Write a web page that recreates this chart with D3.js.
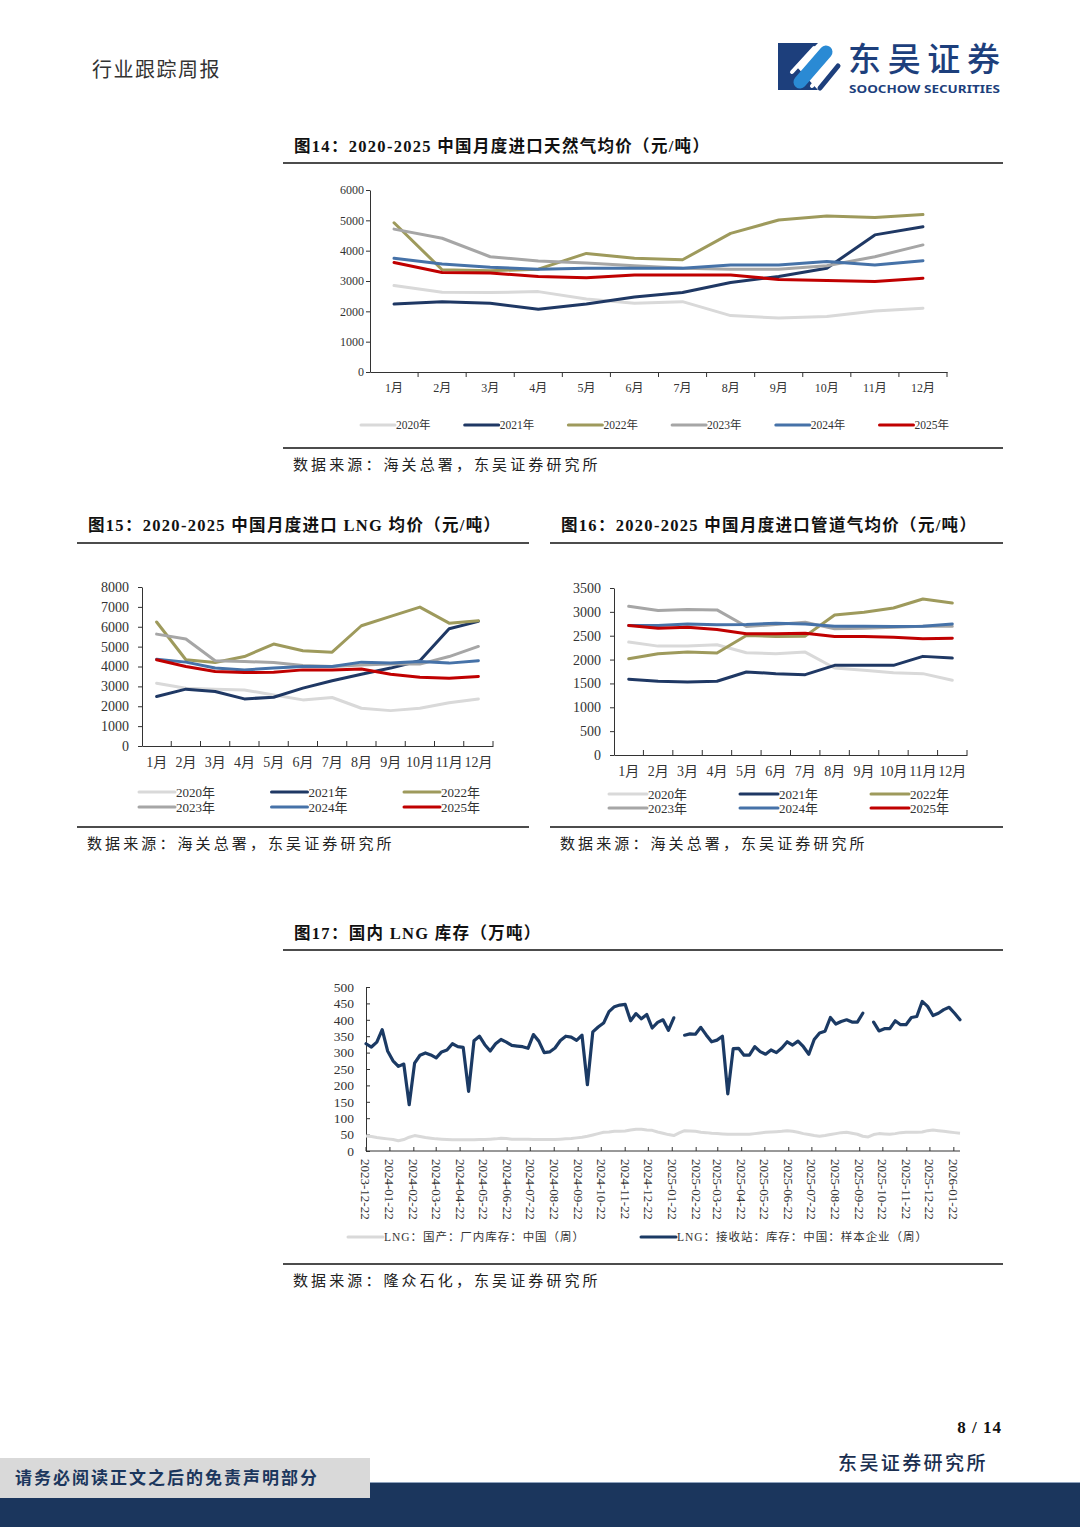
<!DOCTYPE html>
<html>
<head>
<meta charset="utf-8">
<script src="https://cdn.jsdelivr.net/npm/d3@7"></script>
<style>
  body { margin: 0; background: #fff; }
  svg text { font-family: "Liberation Serif", "Noto Sans CJK SC", serif; }
</style>
</head>
<body>
<svg id="page" width="1080" height="1527"></svg>
<script>
// ---- data ----
const months = ["1月","2月","3月","4月","5月","6月","7月","8月","9月","10月","11月","12月"];
const years = ["2020年","2021年","2022年","2023年","2024年","2025年"];
const yearColors = ["#d9d9d9","#1f3864","#9e9a5c","#a6a6a6","#4672a8","#c00000"];

// 图14 进口天然气均价 (元/吨), one row per year 2020..2025
const ngPrice = [
  [2850,2630,2620,2650,2410,2270,2320,1860,1780,1830,2010,2100],
  [2240,2320,2270,2070,2240,2470,2620,2950,3150,3420,4520,4790],
  [4920,3370,3340,3390,3910,3750,3700,4570,5010,5140,5090,5190],
  [4710,4410,3800,3660,3590,3500,3420,3390,3390,3500,3800,4190],
  [3750,3560,3450,3390,3420,3420,3420,3530,3530,3640,3530,3670],
  [3610,3280,3260,3150,3110,3200,3200,3200,3050,3020,2980,3090]
];
// 图15 进口LNG均价
const lngPrice = [
  [3160,2910,2860,2820,2570,2320,2440,1900,1780,1900,2180,2370],
  [2490,2860,2740,2370,2450,2910,3280,3610,3920,4290,5900,6270],
  [6240,4340,4200,4500,5130,4790,4720,6050,6520,6990,6180,6300],
  [5630,5380,4290,4250,4200,4050,4000,4080,4120,4120,4500,5010],
  [4370,4220,3920,3830,3920,4000,4000,4220,4170,4250,4170,4290],
  [4340,4000,3750,3700,3710,3830,3830,3870,3610,3460,3410,3500]
];
// 图16 进口管道气均价
const pipePrice = [
  [2366,2282,2282,2310,2143,2122,2157,1823,1774,1726,1705,1566],
  [1587,1545,1531,1545,1740,1705,1684,1879,1879,1879,2067,2032],
  [2018,2122,2157,2136,2505,2484,2491,2936,2992,3082,3270,3187],
  [3117,3027,3048,3041,2693,2735,2783,2644,2658,2679,2700,2700],
  [2714,2714,2748,2728,2735,2762,2748,2700,2700,2693,2700,2748],
  [2714,2658,2679,2630,2540,2540,2554,2484,2484,2470,2435,2449]
];

// 图17 国内LNG库存 (万吨), weekly from stockStart
const stockStart = "2023-12-22";
const stockEnd = "2026-01-30";
const stockNames = ["LNG：国产：厂内库存：中国（周）", "LNG：接收站：库存：中国：样本企业（周）"];
const stockDomestic = [
  46,44,41,39,37,35,31,35,42,47,
  44,41,39,37,36,35,34,34,34,34,
  34,35,35,36,37,39,38,36,36,36,
  36,35,35,35,35,35,36,37,38,40,
  42,45,49,53,57,58,60,60,61,64,
  66,66,64,63,58,54,50,47,55,62,
  61,60,57,56,54,53,52,51,51,51,
  51,51,53,55,57,58,59,60,62,60,
  57,53,50,47,45,47,50,53,56,57,
  54,51,45,43,50,53,52,51,53,56,
  57,57,57,58,62,64,62,60,58,56,54
];
const stockTerminal = [
  327,317,332,370,305,275,258,265,141,268,
  292,299,293,284,302,308,327,318,316,182,
  336,350,324,305,327,340,332,322,320,318,
  313,355,335,300,302,314,337,350,347,337,
  353,202,363,378,390,425,440,445,447,397,
  419,403,416,375,392,400,368,406,null,353,
  357,356,377,354,333,338,350,174,312,313,
  292,292,318,303,295,308,300,314,333,323,
  335,318,295,340,360,365,407,387,395,400,
  393,393,420,null,393,366,373,373,397,385,
  385,407,410,456,441,413,420,431,438,420,400
];
const stockTicks = [
  "2023-12-22","2024-01-22","2024-02-22","2024-03-22","2024-04-22","2024-05-22",
  "2024-06-22","2024-07-22","2024-08-22","2024-09-22","2024-10-22","2024-11-22",
  "2024-12-22","2025-01-22","2025-02-22","2025-03-22","2025-04-22","2025-05-22",
  "2025-06-22","2025-07-22","2025-08-22","2025-09-22","2025-10-22","2025-11-22",
  "2025-12-22","2026-01-22"
];

const svg = d3.select("#page");
const ink = "#333";

// ---- page header ----
svg.append("text").attr("x", 92).attr("y", 77).attr("font-size", 20)
  .attr("letter-spacing", 1.5).attr("fill", "#333").text("行业跟踪周报");

// logo
const logo = svg.append("g");
logo.append("path").attr("d", "M778,43 L818,43 L796,66 L818,90 L778,90 Z").attr("fill", "#1d3f7c");
logo.append("path").attr("d", "M800,82 L826,52").attr("stroke", "#2a8ad4").attr("stroke-width", 13)
  .attr("stroke-linecap", "round");
logo.append("path").attr("d", "M792,72 L814,48").attr("stroke", "#fff").attr("stroke-width", 4)
  .attr("stroke-linecap", "round");
logo.append("path").attr("d", "M812,86 L834,60").attr("stroke", "#fff").attr("stroke-width", 4)
  .attr("stroke-linecap", "round");
logo.append("path").attr("d", "M820,88 L838,66").attr("stroke", "#1d3f7c").attr("stroke-width", 5)
  .attr("stroke-linecap", "round");
svg.append("text").attr("x", 848).attr("y", 71).attr("font-size", 33)
  .style("font-family", "'Noto Sans CJK SC', sans-serif").attr("font-weight", 500)
  .attr("textLength", 152).attr("fill", "#1d3f7c").text("东吴证券");
svg.append("text").attr("x", 849).attr("y", 92.5).attr("font-size", 11)
  .style("font-family", "'Noto Sans', 'DejaVu Sans', sans-serif").attr("font-weight", 700)
  .attr("textLength", 151).attr("lengthAdjust", "spacingAndGlyphs")
  .attr("fill", "#1d3f7c").text("SOOCHOW SECURITIES");

// ---- frames: title, rules, source ----
function frame(x0, x1, titleY, ruleTop, ruleBottom, title, source) {
  svg.append("text").attr("x", x0 + 11).attr("y", titleY).attr("font-size", 16.5)
    .attr("font-weight", 700).attr("letter-spacing", 1.3).attr("fill", "#111").text(title);
  [ruleTop, ruleBottom].forEach(yy => svg.append("line")
    .attr("x1", x0).attr("x2", x1).attr("y1", yy).attr("y2", yy)
    .attr("stroke", "#111").attr("stroke-width", 1.4));
  svg.append("text").attr("x", x0 + 10).attr("y", ruleBottom + 22).attr("font-size", 15)
    .attr("letter-spacing", 3.1).attr("fill", "#222").text(source);
}
frame(283, 1003, 152, 163, 448, "图14：2020-2025 中国月度进口天然气均价（元/吨）", "数据来源：海关总署，东吴证券研究所");
frame(77, 529, 531, 543, 827, "图15：2020-2025 中国月度进口 LNG 均价（元/吨）", "数据来源：海关总署，东吴证券研究所");
frame(550, 1003, 531, 543, 827, "图16：2020-2025 中国月度进口管道气均价（元/吨）", "数据来源：海关总署，东吴证券研究所");
frame(283, 1003, 939, 950, 1264, "图17：国内 LNG 库存（万吨）", "数据来源：隆众石化，东吴证券研究所");

// ---- monthly line charts ----
function styleAxis(a, fs) {
  a.select(".domain").attr("stroke", ink).attr("stroke-width", 1);
  a.selectAll(".tick line").attr("stroke", ink);
  a.selectAll("text").attr("font-size", fs).attr("fill", ink)
    .attr("font-family", "Liberation Serif, Noto Sans CJK SC, serif");
}

function monthlyChart(o) {
  const x = d3.scaleBand().domain(months).range([o.x0, o.x1]);
  const y = d3.scaleLinear().domain([0, o.yMax]).range([o.y0, o.y1]);
  const g = svg.append("g");

  const ya = g.append("g").attr("transform", `translate(${o.x0},0)`)
    .call(d3.axisLeft(y).tickValues(d3.range(0, o.yMax + 1, o.yStep))
      .tickSize(4).tickSizeOuter(0).tickPadding(o.yPad).tickFormat(d3.format("d")));
  styleAxis(ya, o.fs);

  const xa = g.append("g").attr("transform", `translate(0,${o.y0})`)
    .call(d3.axisBottom(x).tickSize(0).tickSizeOuter(0).tickPadding(o.xPad));
  styleAxis(xa, o.fs);
  xa.selectAll("line.bound").data(months.slice(1).map(m => x(m)).concat([o.x1]))
    .join("line").attr("class", "bound")
    .attr("x1", d => d).attr("x2", d => d).attr("y1", 0).attr("y2", o.xTick)
    .attr("stroke", ink);

  const line = d3.line()
    .x((d, i) => x(months[i]) + x.bandwidth() / 2)
    .y(d => y(d));
  o.data.forEach((s, k) => g.append("path").datum(s).attr("d", line)
    .attr("fill", "none").attr("stroke", yearColors[k]).attr("stroke-width", 3)
    .attr("stroke-linejoin", "round").attr("stroke-linecap", "round"));

  // legend
  o.legend.forEach((p, k) => {
    g.append("line").attr("x1", p[0]).attr("x2", p[0] + o.legLen).attr("y1", p[1]).attr("y2", p[1])
      .attr("stroke", yearColors[k]).attr("stroke-width", 3).attr("stroke-linecap", "round");
    g.append("text").attr("x", p[0] + o.legLen + 1).attr("y", p[1]).attr("dy", "0.36em")
      .attr("font-size", o.legFs).attr("fill", ink).text(years[k]);
  });
}

monthlyChart({
  x0: 370, x1: 947, y0: 372, y1: 190, yMax: 6000, yStep: 1000,
  yPad: 2, xPad: 11, xTick: 5, fs: 12, data: ngPrice,
  legLen: 34, legFs: 11.5,
  legend: years.map((d, k) => [361 + k * 103.7, 425])
});
monthlyChart({
  x0: 142, x1: 493, y0: 746, y1: 587, yMax: 8000, yStep: 1000,
  yPad: 9, xPad: 11, xTick: -5, fs: 14, data: lngPrice,
  legLen: 36, legFs: 13,
  legend: years.map((d, k) => [139 + (k % 3) * 132.5, k < 3 ? 792 : 807])
});
monthlyChart({
  x0: 614, x1: 967, y0: 755, y1: 588, yMax: 3500, yStep: 500,
  yPad: 9, xPad: 11, xTick: -5, fs: 14, data: pipePrice,
  legLen: 38, legFs: 13,
  legend: years.map((d, k) => [609 + (k % 3) * 131, k < 3 ? 794 : 808])
});

// ---- 图17 weekly stock chart ----
(function () {
  const parse = d3.timeParse("%Y-%m-%d");
  const t0 = parse(stockStart);
  const weeks = stockTerminal.map((d, i) => d3.timeDay.offset(t0, 7 * i));
  const x = d3.scaleTime().domain([t0, parse(stockEnd)]).range([366, 960]);
  const y = d3.scaleLinear().domain([0, 500]).range([1151, 987]);
  const g = svg.append("g");

  const ya = g.append("g").attr("transform", "translate(366,0)")
    .call(d3.axisLeft(y).tickValues(d3.range(0, 501, 50)).tickSize(-4).tickSizeOuter(0).tickPadding(12));
  styleAxis(ya, 13.5);

  const xa = g.append("g").attr("transform", "translate(0,1151)");
  xa.append("line").attr("x1", 366).attr("x2", 960).attr("stroke", ink);
  const ticks = stockTicks.map(parse);
  xa.selectAll("line.tk").data(ticks).join("line").attr("class", "tk")
    .attr("x1", d => x(d)).attr("x2", d => x(d)).attr("y1", 0).attr("y2", -4).attr("stroke", ink);
  xa.selectAll("text").data(stockTicks).join("text")
    .attr("transform", (d, i) => `translate(${x(ticks[i])},8) rotate(90)`)
    .attr("dy", "0.35em").attr("font-size", 13).attr("fill", ink).text(d => d);

  const line = d3.line().defined(d => d != null)
    .x((d, i) => x(weeks[i])).y(d => y(d));
  g.append("path").datum(stockDomestic).attr("d", line).attr("fill", "none")
    .attr("stroke", "#d9d9d9").attr("stroke-width", 3).attr("stroke-linejoin", "round");
  g.append("path").datum(stockTerminal).attr("d", line).attr("fill", "none")
    .attr("stroke", "#1b3a64").attr("stroke-width", 3.2).attr("stroke-linejoin", "round")
    .attr("stroke-linecap", "round");

  const leg = [[348, "#d9d9d9", 200], [641, "#1b3a64", 250]];
  leg.forEach((p, k) => {
    g.append("line").attr("x1", p[0]).attr("x2", p[0] + 35).attr("y1", 1237).attr("y2", 1237)
      .attr("stroke", p[1]).attr("stroke-width", 3).attr("stroke-linecap", "round");
    g.append("text").attr("x", p[0] + 36).attr("y", 1237).attr("dy", "0.36em")
      .attr("font-size", 11.5).attr("textLength", p[2]).attr("lengthAdjust", "spacing")
      .attr("fill", ink).text(stockNames[k]);
  });
})();

// ---- footer ----
svg.append("text").attr("x", 1002).attr("y", 1433).attr("text-anchor", "end")
  .attr("font-size", 17).attr("font-weight", 700).attr("letter-spacing", 1)
  .attr("fill", "#111").text("8 / 14");
svg.append("text").attr("x", 838).attr("y", 1470).attr("font-size", 19)
  .attr("letter-spacing", 2.4).attr("font-weight", 500).attr("fill", "#1b2f50").text("东吴证券研究所");
svg.append("rect").attr("x", 0).attr("y", 1482).attr("width", 1080).attr("height", 45).attr("fill", "#1b365d");
svg.append("line").attr("x1", 0).attr("x2", 1080).attr("y1", 1482.5).attr("y2", 1482.5)
  .attr("stroke", "#8ea2bd").attr("stroke-width", 1);
svg.append("rect").attr("x", 0).attr("y", 1458).attr("width", 370).attr("height", 40).attr("fill", "#d9d9d9");
svg.append("text").attr("x", 15).attr("y", 1484).attr("font-size", 17).attr("font-weight", 700)
  .attr("letter-spacing", 2).attr("fill", "#1b365d").text("请务必阅读正文之后的免责声明部分");
</script>
</body>
</html>
